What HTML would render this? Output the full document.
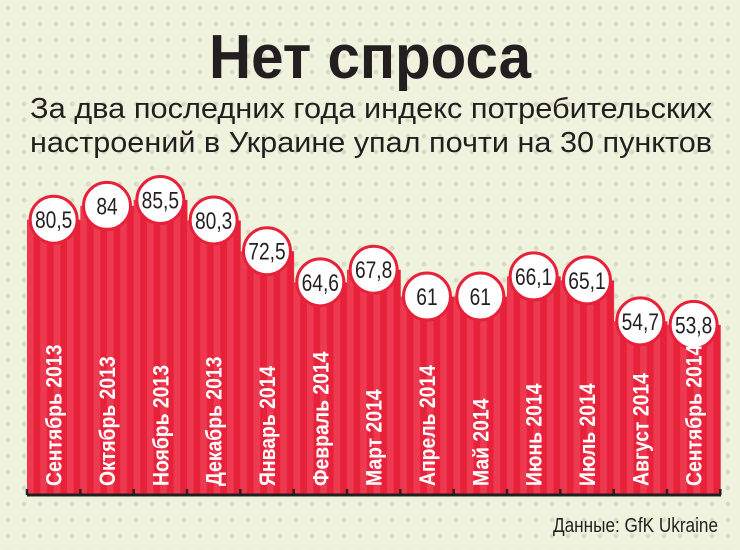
<!DOCTYPE html>
<html><head><meta charset="utf-8"><style>
html,body{margin:0;padding:0;width:740px;height:550px;overflow:hidden;background:#eff3de}
svg{display:block}
</style></head><body>
<svg width="740" height="550" xmlns="http://www.w3.org/2000/svg" font-family="Liberation Sans, sans-serif">
<defs>
<pattern id="dots" width="16" height="16" patternUnits="userSpaceOnUse">
<circle cx="8" cy="8" r="2.6" fill="#d9ddc8"/>
</pattern>
<pattern id="stripes" width="13.33" height="10" patternUnits="userSpaceOnUse" x="27">
<rect width="13.33" height="10" fill="#e8213b"/>
<rect width="6.6" height="10" fill="#ee3a50"/>
</pattern>
</defs>
<rect width="740" height="550" fill="#eff3de"/>
<rect width="740" height="550" fill="url(#dots)"/>
<text x="370" y="78" text-anchor="middle" font-weight="bold" font-size="62" fill="#231f20" textLength="322" lengthAdjust="spacingAndGlyphs">Нет спроса</text>
<text x="371" y="118" text-anchor="middle" font-size="29" fill="#231f20" textLength="682" lengthAdjust="spacingAndGlyphs">За два последних года индекс потребительских</text>
<text x="371" y="152" text-anchor="middle" font-size="29" fill="#231f20" textLength="682" lengthAdjust="spacingAndGlyphs">настроений в Украине упал почти на 30 пунктов</text>
<g id="bars"></g>
<line x1="27" y1="495" x2="721" y2="495" stroke="#231f20" stroke-width="3"/>
<g stroke="#231f20" stroke-width="2.5" id="ticks"></g>
<text x="718" y="532" text-anchor="end" font-size="20" fill="#231f20" textLength="165" lengthAdjust="spacingAndGlyphs">Данные: GfK Ukraine</text>
</svg>
<script>
var vals=[80.5,84,85.5,80.3,72.5,64.6,67.8,61,61,66.1,65.1,54.7,53.8];
var labs=["Сентябрь 2013","Октябрь 2013","Ноябрь 2013","Декабрь 2013","Январь 2014","Февраль 2014","Март 2014","Апрель 2014","Май 2014","Июнь 2014","Июль 2014","Август 2014","Сентябрь 2014"];
var ns="http://www.w3.org/2000/svg",g=document.getElementById("bars"),t=document.getElementById("ticks");
function el(n,a,p){var e=document.createElementNS(ns,n);for(var k in a)e.setAttribute(k,a[k]);(p||g).appendChild(e);return e;}
var w=53.33,x0=27;
vals.forEach(function(v,i){var x=x0+i*w,y=200+(85.5-v)*3.94;
el("rect",{x:x,y:y,width:w+0.5,height:495-y,fill:"url(#stripes)"});});
vals.forEach(function(v,i){var x=x0+i*w,cx=x+w/2,y=200+(85.5-v)*3.94;
el("circle",{cx:cx,cy:y,r:23.5,fill:"#fff",stroke:"#e8213b","stroke-width":3});
var tx=el("text",{x:0,y:0,transform:"translate("+cx+","+(y+8.5)+") scale(0.8,1)","text-anchor":"middle","font-size":24,fill:"#231f20"});tx.textContent=String(v).replace(".",",");
var lb=el("text",{x:0,y:0,transform:"translate("+(cx+8)+",486) rotate(-90) scale(0.88,1)","font-size":22,"font-weight":"bold",fill:"#fff"});lb.textContent=labs[i];
});
for(var i=0;i<=13;i++)el("line",{x1:x0+i*w,y1:489,x2:x0+i*w,y2:495},t);
</script>
</body></html>
